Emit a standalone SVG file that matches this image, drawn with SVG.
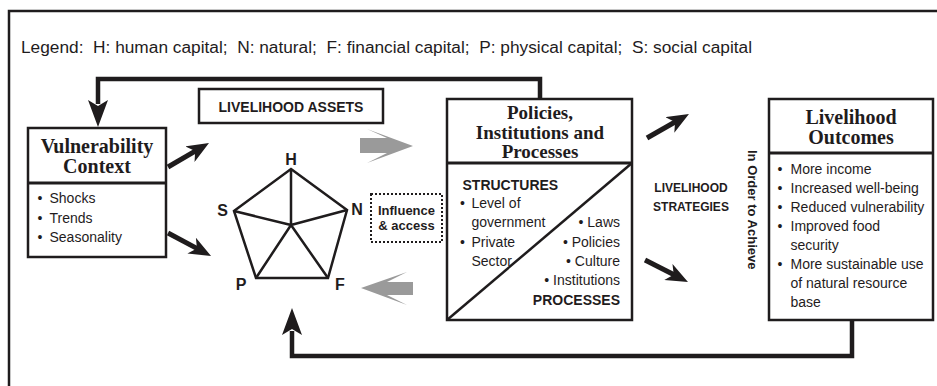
<svg xmlns="http://www.w3.org/2000/svg" width="937" height="386" viewBox="0 0 937 386">
<style>
.box{fill:#fff;stroke:#1f1c1d;stroke-width:2.5}
.dv{stroke:#1f1c1d;stroke-width:3;fill:none}
.hd{font-family:"Liberation Serif","Times New Roman",serif;font-weight:bold;font-size:20px;text-anchor:middle;fill:#1f1c1d}
.tx{font-family:"Liberation Sans",Arial,sans-serif;font-size:14px;fill:#1f1c1d}
.b{font-weight:bold}
.mid{text-anchor:middle}
.end{text-anchor:end}
.lbl{font-family:"Liberation Sans",Arial,sans-serif;font-weight:bold;font-size:16px;text-anchor:middle;fill:#1f1c1d}
.ar{stroke:#1f1c1d;stroke-width:5;fill:none;marker-end:url(#ah)}
.fb{stroke:#1f1c1d;stroke-width:4.5;fill:none;stroke-linejoin:miter}
.hk{fill:#1f1c1d}
.gr{fill:#9a9a9a}
</style>
<defs>
<marker id="ah" markerUnits="userSpaceOnUse" markerWidth="22" markerHeight="18" viewBox="0 0 22 18" refX="8" refY="9" orient="auto">
<path d="M0,0 L22,9 L0,18 L6,9 Z" fill="#1f1c1d"/>
</marker>
</defs>
<rect width="937" height="386" fill="#fff"/>
<g id="frame">
<path d="M9,386 V11 H937" fill="none" stroke="#1f1c1d" stroke-width="2.5"/>
<text class="tx" x="21" y="53" style="font-size:17.3px">Legend:&#160; H: human capital;&#160; N: natural;&#160; F: financial capital;&#160; P: physical capital;&#160; S: social capital</text>
</g>
<g id="connectors">
<path class="fb" d="M540,99 V79 H98 V104"/>
<path class="hk" d="M98,127 L88,100 L98,106 L108,100 Z"/>
<path class="fb" d="M852,320 V356 H292 V331"/>
<path class="hk" d="M292,308 L282,335 L292,329 L302,335 Z"/>
<line class="ar" x1="168" y1="167" x2="196.9" y2="150.1"/>
<line class="ar" x1="168" y1="233" x2="198.7" y2="249.4"/>
<line class="ar" x1="647" y1="138" x2="676.8" y2="121"/>
<line class="ar" x1="645" y1="260" x2="675.5" y2="275.6"/>
<polygon class="gr" points="360,138 387,138 367,129 413,146 367,163 387,153 360,153"/>
<polygon class="gr" points="361,288 407,272 387,282 413,282 413,295 387,295 407,305"/>
</g>
<g id="vulnerability">
<rect class="box" x="28" y="128" width="138" height="129"/>
<line class="dv" x1="28" y1="183" x2="166" y2="183"/>
<text class="hd" x="97" y="153">Vulnerability</text>
<text class="hd" x="97" y="173">Context</text>
<text class="tx" y="203"><tspan x="37.5">•</tspan><tspan x="49.5">Shocks</tspan></text>
<text class="tx" y="222.5"><tspan x="37.5">•</tspan><tspan x="49.5">Trends</tspan></text>
<text class="tx" y="242"><tspan x="37.5">•</tspan><tspan x="49.5">Seasonality</tspan></text>
</g>
<g id="assets">
<rect class="box" x="199" y="89" width="184" height="34"/>
<text class="tx b mid" x="291" y="112">LIVELIHOOD ASSETS</text>
</g>
<g id="pentagon">
<polygon points="291,169 347,210 328,278 256,278 234,211" fill="none" stroke="#1f1c1d" stroke-width="2.5"/>
<path d="M291,225 L291,169 M291,225 L347,210 M291,225 L328,278 M291,225 L256,278 M291,225 L234,211" stroke="#1f1c1d" stroke-width="2.5" fill="none"/>
<text class="lbl" x="291" y="165">H</text>
<text class="lbl" x="222.5" y="216">S</text>
<text class="lbl" x="357" y="215">N</text>
<text class="lbl" x="241" y="290">P</text>
<text class="lbl" x="340" y="290">F</text>
</g>
<g id="influence">
<rect x="371" y="194" width="71" height="48" fill="#fff" stroke="#1f1c1d" stroke-width="2" stroke-dasharray="2 2"/>
<text class="tx b mid" x="406.5" y="215" style="font-size:13px">Influence</text>
<text class="tx b mid" x="406.5" y="230" style="font-size:13px">&amp; access</text>
</g>
<g id="policies">
<rect class="box" x="447" y="99" width="185" height="221"/>
<line class="dv" x1="447" y1="163" x2="632" y2="163"/>
<line x1="447" y1="320" x2="632" y2="163" stroke="#1f1c1d" stroke-width="2.5"/>
<text class="hd" x="540" y="119" style="font-size:19px">Policies,</text>
<text class="hd" x="540" y="138.5" style="font-size:19px">Institutions and</text>
<text class="hd" x="540" y="158" style="font-size:19px">Processes</text>
<text class="tx b" x="462.5" y="189.5">STRUCTURES</text>
<text class="tx" y="208"><tspan x="460">•</tspan><tspan x="471.5">Level of</tspan></text>
<text class="tx" x="471.5" y="227">government</text>
<text class="tx" y="246.5"><tspan x="460">•</tspan><tspan x="471.5">Private</tspan></text>
<text class="tx" x="471.5" y="265.5">Sector</text>
<text class="tx end" x="620" y="227">• Laws</text>
<text class="tx end" x="620" y="246.5">• Policies</text>
<text class="tx end" x="620" y="265.5">• Culture</text>
<text class="tx end" x="620" y="284.5">• Institutions</text>
<text class="tx b end" x="620" y="305">PROCESSES</text>
</g>
<g id="strategies">
<text class="tx b mid" x="691" y="192" style="font-size:12px">LIVELIHOOD</text>
<text class="tx b mid" x="691" y="211" style="font-size:12px">STRATEGIES</text>
</g>
<g id="achieve">
<text class="tx b" transform="translate(748,150) rotate(90)" style="font-size:13px">In Order to Achieve</text>
</g>
<g id="outcomes">
<rect class="box" x="769" y="99" width="164" height="221"/>
<line class="dv" x1="769" y1="153" x2="933" y2="153"/>
<text class="hd" x="851" y="124">Livelihood</text>
<text class="hd" x="851" y="144">Outcomes</text>
<text class="tx" y="173.5"><tspan x="777.5">•</tspan><tspan x="790.5">More income</tspan></text>
<text class="tx" y="192.5"><tspan x="777.5">•</tspan><tspan x="790.5">Increased well-being</tspan></text>
<text class="tx" y="211.5"><tspan x="777.5">•</tspan><tspan x="790.5">Reduced vulnerability</tspan></text>
<text class="tx" y="230.5"><tspan x="777.5">•</tspan><tspan x="790.5">Improved food</tspan></text>
<text class="tx" x="790.5" y="249.5">security</text>
<text class="tx" y="268.5"><tspan x="777.5">•</tspan><tspan x="790.5">More sustainable use</tspan></text>
<text class="tx" x="790.5" y="287.5">of natural resource</text>
<text class="tx" x="790.5" y="306.5">base</text>
</g>
</svg>
